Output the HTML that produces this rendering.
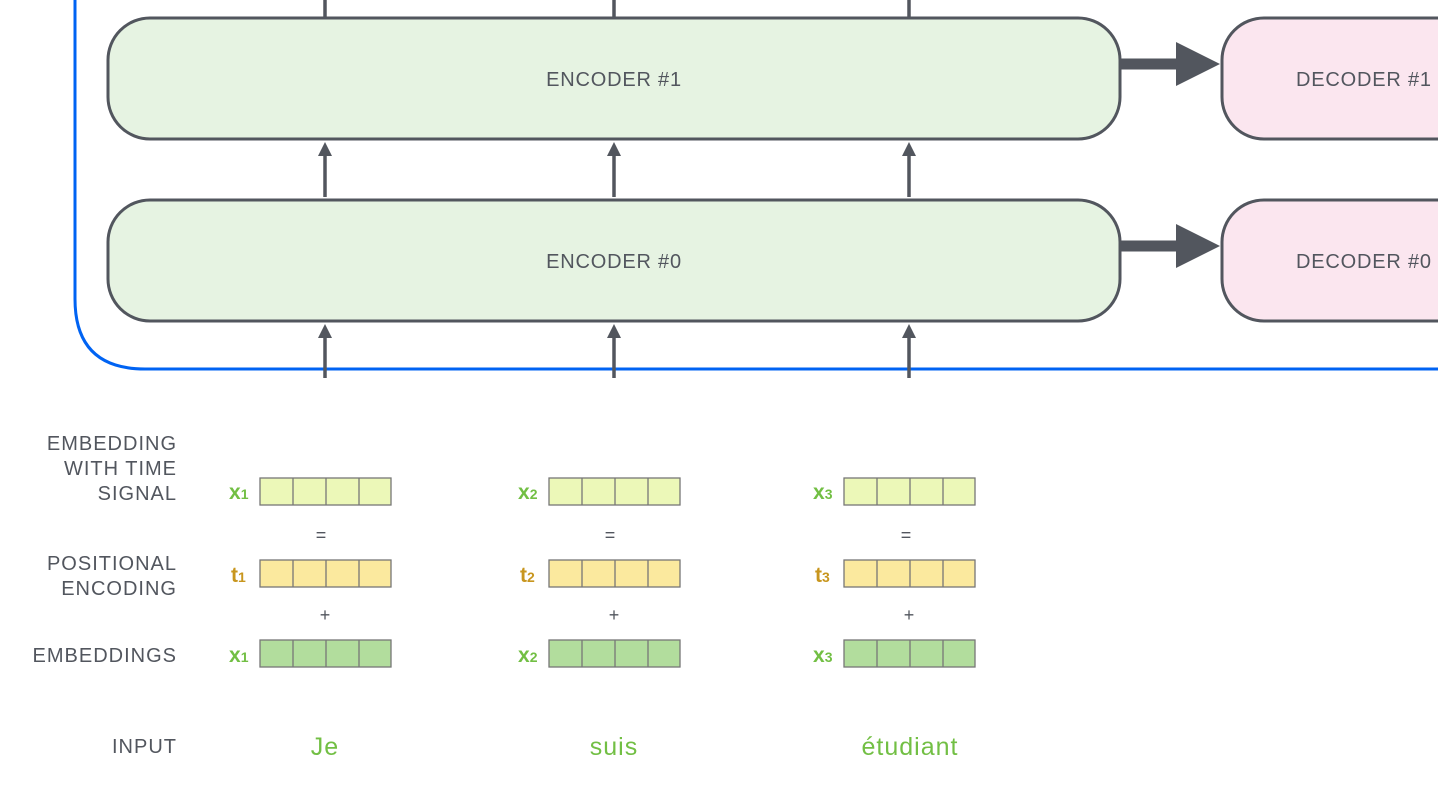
<!DOCTYPE html>
<html><head><meta charset="utf-8"><style>
html,body{margin:0;padding:0;background:#fff;width:1438px;height:793px;overflow:hidden}
text{font-family:"Liberation Sans",sans-serif}
</style></head><body>
<svg width="1438" height="793" viewBox="0 0 1438 793" xmlns="http://www.w3.org/2000/svg">
<path d="M75,0 L75,299 Q75,369 145,369 L1440,369" fill="none" stroke="#0063f3" stroke-width="3"/>
<rect x="108" y="18" width="1012" height="121" rx="42" fill="#e6f3e2" stroke="#52565e" stroke-width="3"/>
<rect x="108" y="200" width="1012" height="121" rx="42" fill="#e6f3e2" stroke="#52565e" stroke-width="3"/>
<text x="614" y="86" font-size="20" fill="#52565e" text-anchor="middle" letter-spacing="0.8">ENCODER #1</text>
<text x="614" y="268" font-size="20" fill="#52565e" text-anchor="middle" letter-spacing="0.8">ENCODER #0</text>
<rect x="1222" y="18" width="260" height="121" rx="42" fill="#fbe6ef" stroke="#52565e" stroke-width="3"/>
<rect x="1222" y="200" width="260" height="121" rx="42" fill="#fbe6ef" stroke="#52565e" stroke-width="3"/>
<text x="1296" y="86" font-size="20" fill="#52565e" letter-spacing="0.8">DECODER #1</text>
<text x="1296" y="268" font-size="20" fill="#52565e" letter-spacing="0.8">DECODER #0</text>
<line x1="1120" y1="64" x2="1178" y2="64" stroke="#52565e" stroke-width="11"/>
<path d="M1176,42 L1220,64 L1176,86 z" fill="#52565e"/>
<line x1="1120" y1="246" x2="1178" y2="246" stroke="#52565e" stroke-width="11"/>
<path d="M1176,224 L1220,246 L1176,268 z" fill="#52565e"/>
<g stroke="#52565e" stroke-width="3.5" fill="#52565e">
<line x1="325" y1="0" x2="325" y2="17"/><line x1="614" y1="0" x2="614" y2="17"/><line x1="909" y1="0" x2="909" y2="17"/>
<line x1="325" y1="197" x2="325" y2="155"/><line x1="614" y1="197" x2="614" y2="155"/><line x1="909" y1="197" x2="909" y2="155"/>
<line x1="325" y1="378" x2="325" y2="337"/><line x1="614" y1="378" x2="614" y2="337"/><line x1="909" y1="378" x2="909" y2="337"/>
</g>
<g fill="#52565e">
<path d="M318,156 L325,142 L332,156 z"/><path d="M607,156 L614,142 L621,156 z"/><path d="M902,156 L909,142 L916,156 z"/>
<path d="M318,338 L325,324 L332,338 z"/><path d="M607,338 L614,324 L621,338 z"/><path d="M902,338 L909,324 L916,338 z"/>
</g>
<g font-size="20" fill="#52565e" text-anchor="end" letter-spacing="1">
<text x="177" y="450">EMBEDDING</text>
<text x="177" y="475">WITH TIME</text>
<text x="177" y="500">SIGNAL</text>
<text x="177" y="570">POSITIONAL</text>
<text x="177" y="595">ENCODING</text>
<text x="177" y="662">EMBEDDINGS</text>
<text x="177" y="753">INPUT</text>
</g>
<g stroke="#777" stroke-width="1.3">
<g fill="#ecf8b8">
<rect x="260" y="478" width="131" height="27"/><rect x="549" y="478" width="131" height="27"/><rect x="844" y="478" width="131" height="27"/>
</g>
<g fill="#fbe99e">
<rect x="260" y="560" width="131" height="27"/><rect x="549" y="560" width="131" height="27"/><rect x="844" y="560" width="131" height="27"/>
</g>
<g fill="#b2dd9d">
<rect x="260" y="640" width="131" height="27"/><rect x="549" y="640" width="131" height="27"/><rect x="844" y="640" width="131" height="27"/>
</g>
<path d="M293,478v27M326,478v27M359,478v27M582,478v27M615,478v27M648,478v27M877,478v27M910,478v27M943,478v27
M293,560v27M326,560v27M359,560v27M582,560v27M615,560v27M648,560v27M877,560v27M910,560v27M943,560v27
M293,640v27M326,640v27M359,640v27M582,640v27M615,640v27M648,640v27M877,640v27M910,640v27M943,640v27" fill="none"/>
</g>
<g font-size="21" font-weight="bold">
<text x="229" y="499" fill="#72bf44">x<tspan font-size="14">1</tspan></text>
<text x="518" y="499" fill="#72bf44">x<tspan font-size="14">2</tspan></text>
<text x="813" y="499" fill="#72bf44">x<tspan font-size="14">3</tspan></text>
<text x="231" y="582" fill="#c8961e">t<tspan font-size="14">1</tspan></text>
<text x="520" y="582" fill="#c8961e">t<tspan font-size="14">2</tspan></text>
<text x="815" y="582" fill="#c8961e">t<tspan font-size="14">3</tspan></text>
<text x="229" y="662" fill="#72bf44">x<tspan font-size="14">1</tspan></text>
<text x="518" y="662" fill="#72bf44">x<tspan font-size="14">2</tspan></text>
<text x="813" y="662" fill="#72bf44">x<tspan font-size="14">3</tspan></text>
</g>
<g font-size="18" fill="#52565e" text-anchor="middle">
<text x="321" y="541">=</text><text x="610" y="541">=</text><text x="906" y="541">=</text>
<text x="325" y="621">+</text><text x="614" y="621">+</text><text x="909" y="621">+</text>
</g>
<g font-size="25" fill="#72bf44" text-anchor="middle" letter-spacing="1">
<text x="325" y="755">Je</text><text x="614" y="755">suis</text><text x="910" y="755">étudiant</text>
</g>
</svg>
</body></html>
